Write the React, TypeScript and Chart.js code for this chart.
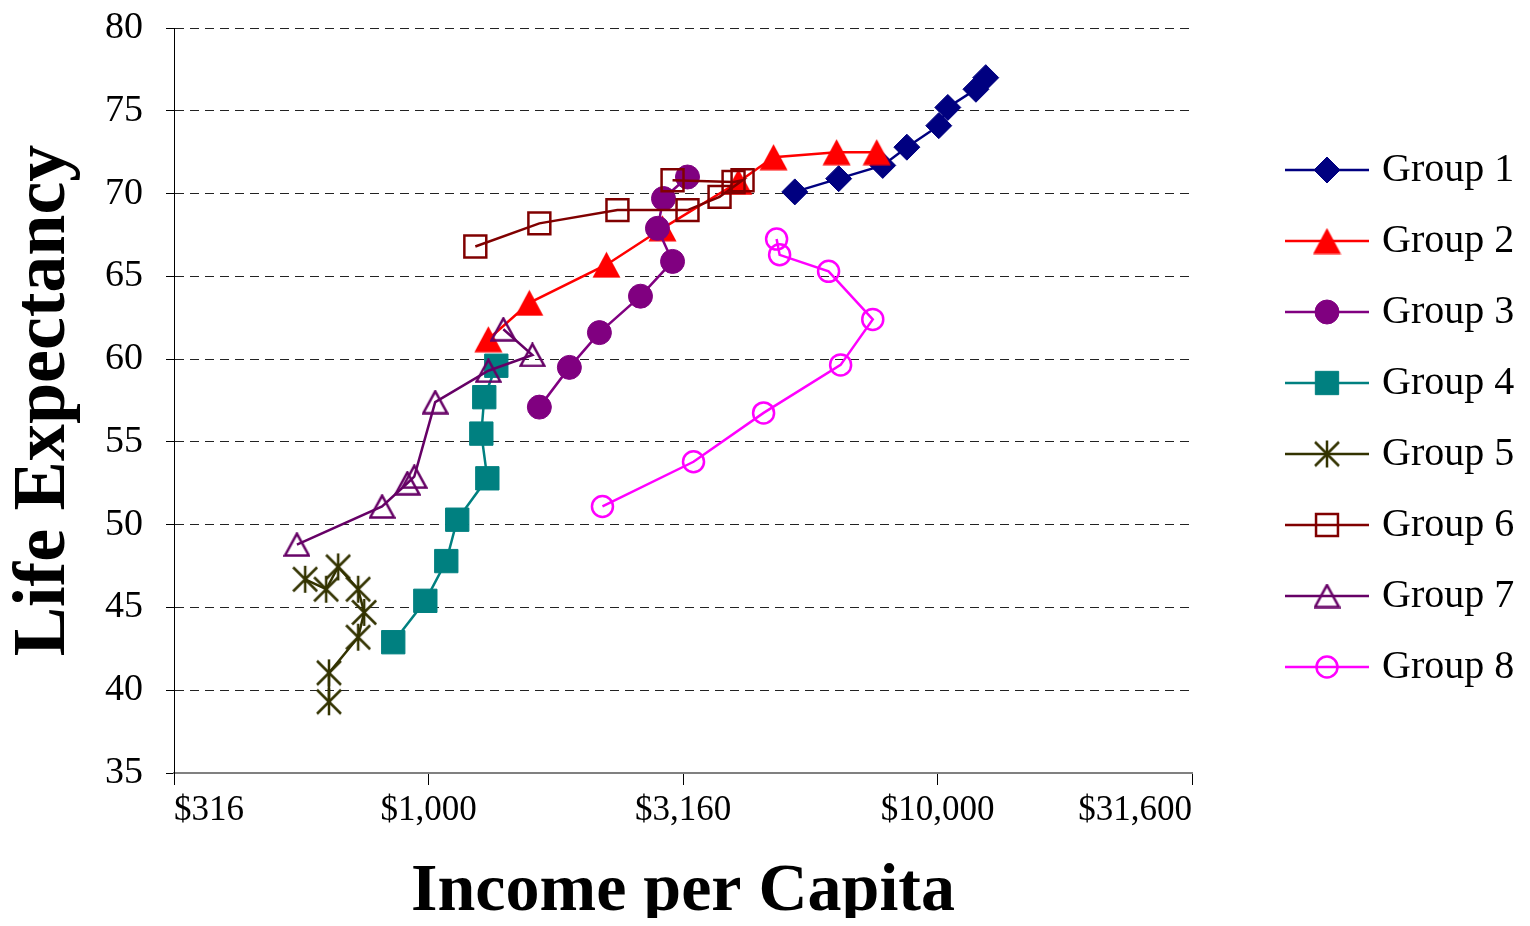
import React, { useEffect, useRef } from 'react';
import { Chart, registerables } from 'chart.js';
import { drawPoint } from 'chart.js/helpers';

Chart.register(...registerables);

const FONT = "'Liberation Serif', 'Times New Roman', Times, serif";

const groupNames = ['Group 1', 'Group 2', 'Group 3', 'Group 4', 'Group 5', 'Group 6', 'Group 7', 'Group 8'];
const groupColors = ['#000080', '#FF0000', '#800080', '#008080', '#333300', '#800000', '#660066', '#FF00FF'];

const g1Income = [5240, 6390, 7800, 8700, 10050, 10470, 11890, 12430];
const g1Life = [70.1, 70.9, 71.7, 72.8, 74.1, 75.2, 76.3, 77.0];

const g2Income = [1310, 1577, 2235, 2880, 4060, 4760, 6330, 7590];
const g2Life = [61.2, 63.4, 65.7, 67.9, 70.7, 72.2, 72.5, 72.5];

const g3Income = [1650, 1890, 2165, 2607, 3014, 2815, 2893, 3225];
const g3Life = [57.1, 59.5, 61.6, 63.8, 65.9, 67.9, 69.7, 71.0];

const g4Income = [852, 985, 1083, 1138, 1304, 1269, 1286, 1358];
const g4Life = [42.9, 45.4, 47.8, 50.3, 52.8, 55.5, 57.7, 59.6];

const g5Income = [637, 637, 727, 747, 727, 664, 629, 572];
const g5Life = [39.3, 41.05, 43.2, 44.7, 46.1, 47.45, 46.1, 46.7];

const g6Income = [1235, 1650, 2349, 3225, 3728, 4137, 3972, 3014];
const g6Life = [66.8, 68.2, 69.0, 69.0, 69.8, 70.8, 70.7, 70.8];

const g7Income = [551, 810, 908, 937, 1030, 1310, 1599, 1402];
const g7Life = [48.8, 51.1, 52.5, 52.9, 57.4, 59.3, 60.25, 61.8];

const g8Income = [2195, 3314, 4550, 6447, 7456, 6105, 4892, 4826];
const g8Life = [51.1, 53.8, 56.75, 59.65, 62.4, 65.3, 66.3, 67.25];

const incomeSeries = [g1Income, g2Income, g3Income, g4Income, g5Income, g6Income, g7Income, g8Income];
const lifeSeries = [g1Life, g2Life, g3Life, g4Life, g5Life, g6Life, g7Life, g8Life];

const xTickValues = [316, 1000, 3160, 10000, 31600];
const yMin = 35;
const yMax = 80;
const yStep = 5;

const xTitle = 'Income per Capita';
const yTitle = 'Life Expectancy';

function makeTriangle(w: number, h: number, color: string, filled: boolean, lw: number) {
  const c = document.createElement('canvas');
  c.width = w;
  c.height = h;
  const ctx = c.getContext('2d')!;
  const inset = filled ? 0.5 : lw / 2 + 0.3;
  ctx.beginPath();
  ctx.moveTo(w / 2, inset);
  ctx.lineTo(w - inset, h - inset);
  ctx.lineTo(inset, h - inset);
  ctx.closePath();
  if (filled) {
    ctx.fillStyle = color;
    ctx.fill();
  } else {
    ctx.strokeStyle = color;
    ctx.lineWidth = lw;
    ctx.lineJoin = 'miter';
    ctx.stroke();
  }
  return c;
}

function makeAsterisk(w: number, h: number, color: string, lw: number) {
  const c = document.createElement('canvas');
  c.width = w;
  c.height = h;
  const ctx = c.getContext('2d')!;
  ctx.strokeStyle = color;
  ctx.lineWidth = lw;
  ctx.beginPath();
  ctx.moveTo(w / 2, 1);
  ctx.lineTo(w / 2, h - 1);
  const m = (h - (w - 2)) / 2;
  ctx.moveTo(1, m);
  ctx.lineTo(w - 1, h - m);
  ctx.moveTo(1, h - m);
  ctx.lineTo(w - 1, m);
  ctx.stroke();
  return c;
}

const sideLegend = {
  id: 'sideLegend',
  afterDraw(chart: any) {
    const { ctx, chartArea } = chart;
    const x0 = chartArea.right + 93;
    const lineLen = 84;
    const y0 = chartArea.top + 142;
    const rowGap = 71;
    chart.data.datasets.forEach((ds: any, i: number) => {
      const y = y0 + i * rowGap;
      ctx.save();
      ctx.strokeStyle = ds.borderColor;
      ctx.lineWidth = ds.borderWidth;
      ctx.beginPath();
      ctx.moveTo(x0, y);
      ctx.lineTo(x0 + lineLen, y);
      ctx.stroke();
      ctx.fillStyle = ds.pointBackgroundColor;
      ctx.strokeStyle = ds.pointBorderColor;
      ctx.lineWidth = ds.pointBorderWidth;
      drawPoint(ctx, { pointStyle: ds.pointStyle, radius: ds.pointRadius, rotation: 0, borderWidth: ds.pointBorderWidth }, x0 + lineLen / 2, y);
      ctx.fillStyle = '#000';
      ctx.font = `40px ${FONT}`;
      ctx.textBaseline = 'middle';
      ctx.textAlign = 'left';
      ctx.fillText(ds.label, x0 + lineLen + 13, y);
      ctx.restore();
    });
  },
};

export default function App() {
  const ref = useRef<HTMLCanvasElement>(null);

  useEffect(() => {
    if (!ref.current) return;
    const clear = 'rgba(0,0,0,0)';
    const triFilled = makeTriangle(29, 27, groupColors[1], true, 0);
    const triHollow = makeTriangle(27, 25, groupColors[6], false, 2.5);
    const asterisk = makeAsterisk(26, 29, groupColors[4], 2.5);

    const markerStyles: any[] = [
      { pointStyle: 'rectRot', pointRadius: 13, fill: true, pointBorderWidth: 1 },
      { pointStyle: triFilled, pointRadius: 14, fill: true, pointBorderWidth: 0 },
      { pointStyle: 'circle', pointRadius: 12, fill: true, pointBorderWidth: 1 },
      { pointStyle: 'rect', pointRadius: 16.5, fill: true, pointBorderWidth: 1 },
      { pointStyle: asterisk, pointRadius: 13, fill: false, pointBorderWidth: 0 },
      { pointStyle: 'rect', pointRadius: 15.5, fill: false, pointBorderWidth: 2.5 },
      { pointStyle: triHollow, pointRadius: 13, fill: false, pointBorderWidth: 0 },
      { pointStyle: 'circle', pointRadius: 10.5, fill: false, pointBorderWidth: 2.5 },
    ];

    const datasets = groupNames.map((name, i) => {
      const m = markerStyles[i];
      return {
        label: name,
        data: incomeSeries[i].map((x, j) => ({ x, y: lifeSeries[i][j] })),
        showLine: true,
        borderColor: groupColors[i],
        backgroundColor: groupColors[i],
        borderWidth: 2.5,
        tension: 0,
        pointStyle: m.pointStyle,
        pointRadius: m.pointRadius,
        pointHoverRadius: m.pointRadius,
        pointBackgroundColor: m.fill ? groupColors[i] : clear,
        pointBorderColor: groupColors[i],
        pointBorderWidth: m.pointBorderWidth,
        order: groupNames.length - i,
      };
    });

    const chart = new Chart(ref.current, {
      type: 'scatter',
      data: { datasets },
      plugins: [sideLegend],
      options: {
        animation: false,
        responsive: true,
        maintainAspectRatio: false,
        events: [],
        layout: { padding: { top: 0, right: 330, left: 0, bottom: 0 } },
        plugins: {
          legend: { display: false },
          tooltip: { enabled: false },
        },
        scales: {
          x: {
            type: 'logarithmic',
            position: 'bottom',
            min: xTickValues[0],
            max: xTickValues[xTickValues.length - 1],
            afterBuildTicks: (s: any) => {
              s.ticks = xTickValues.map((v) => ({ value: v }));
            },
            afterFit: (s: any) => {
              s.height = 145;
            },
            ticks: {
              align: 'inner',
              autoSkip: false,
              maxRotation: 0,
              minRotation: 0,
              color: '#000',
              padding: 8,
              font: { family: FONT, size: 35, lineHeight: 1 },
              callback: (v: any) => '$' + Number(v).toLocaleString('en-US'),
            },
            grid: {
              drawOnChartArea: false,
              drawTicks: true,
              tickLength: 12,
              tickColor: '#000',
              color: '#000',
              lineWidth: 1,
            },
            border: { display: true, color: '#808080', width: 2 },
            title: {
              display: true,
              text: xTitle,
              color: '#000',
              padding: 0,
              font: { family: FONT, size: 68, weight: 'bold', lineHeight: 0.74 },
            },
          },
          y: {
            type: 'linear',
            min: yMin,
            max: yMax,
            afterFit: (s: any) => {
              s.width = 166;
              s.paddingTop = 20;
              s.paddingBottom = 20;
            },
            ticks: {
              stepSize: yStep,
              color: '#000',
              padding: 23,
              font: { family: FONT, size: 38, lineHeight: 1.06 },
            },
            grid: {
              color: (c: any) => (c.tick && c.tick.value === yMin ? clear : '#222'),
              tickColor: '#000',
              tickLength: 8,
              lineWidth: 1,
            },
            border: { display: true, color: '#000', width: 1, dash: [9, 6] },
            title: {
              display: true,
              text: yTitle,
              color: '#000',
              padding: 0,
              font: { family: FONT, size: 74, weight: 'bold', lineHeight: 1 },
            },
          },
        },
      } as any,
    });
    return () => chart.destroy();
  }, []);

  return (
    <div style={{ width: 1514, height: 910, position: 'relative' }}>
      <canvas ref={ref} />
    </div>
  );
}
